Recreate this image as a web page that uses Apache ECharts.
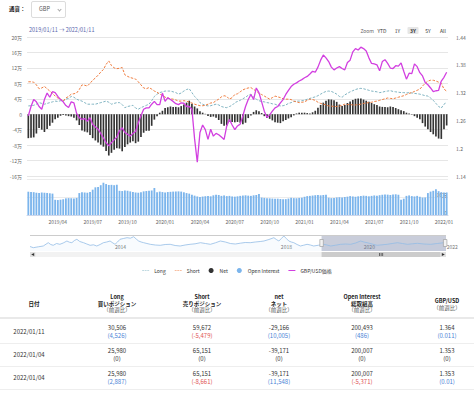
<!DOCTYPE html>
<html><head><meta charset="utf-8">
<script src="https://cdn.jsdelivr.net/npm/echarts@6/dist/echarts.min.js"></script>
<style>
body{margin:0;width:474px;height:393px;overflow:hidden;background:#fff;font-family:"Noto Sans CJK JP","Noto Sans",sans-serif;color:#333;position:relative}
#chart{position:absolute;left:0;top:0;width:474px;height:282px}
.abs{position:absolute;white-space:nowrap;line-height:1}
.c{transform:translate(-50%,-50%)}
.btn{position:absolute;top:27px;height:7px;font-size:5px;line-height:7px;color:#333;text-align:center;transform:translateX(-50%);padding:0 1.5px;border-radius:1px}
</style></head><body>
<div class="abs" style="left:9px;top:7px;font-size:5.5px;font-weight:bold;color:#222">通貨：</div>
<div class="abs" style="left:31px;top:1px;width:35px;height:17px;border:1px solid #dcdcdc;border-radius:2px;box-sizing:border-box"></div>
<div class="abs" style="left:39px;top:7px;font-size:5.5px;color:#555">GBP</div>
<div class="abs" style="left:57.5px;top:8px;width:2px;height:2px;border-right:1px solid #aaa;border-bottom:1px solid #aaa;transform:rotate(45deg)"></div>
<div id="chart"></div>
<div class="abs" style="left:29px;top:27.5px;font-size:5.5px;color:#5a67ad">2019/01/11 → 2022/01/11</div>
<div class="abs" style="left:374px;top:28px;font-size:5px;color:#666;transform:translateX(-100%)">Zoom</div>
<div class="btn" style="left:382px">YTD</div>
<div class="btn" style="left:397.5px">1Y</div>
<div class="btn" style="left:413px;background:#e6e6e6;font-weight:bold;width:8px">3Y</div>
<div class="btn" style="left:428px">5Y</div>
<div class="btn" style="left:443px">All</div>
<div id="table"></div>
<script>
// ---- weekly data (万 units for positions / open interest) ----
const longPos = [
2.15,2.2,2.3,2.6,3.0,2.8,2.6,2.8,3.0,3.2,
3.4,3.3,3.5,3.4,3.9,4.1,4.6,4.4,3.9,3.6,
3.4,3.0,2.6,2.6,2.6,2.6,2.8,3.0,3.2,3.4,
3.1,2.6,2.8,3.0,3.0,2.5,1.7,2.0,2.15,2.3,
1.6,1.3,1.7,2.0,2.3,2.6,3.5,4.6,5.2,5.6,
5.8,6.0,6.0,6.0,5.8,5.6,5.2,5.5,6.0,6.4,
6.6,5.6,4.6,3.9,3.0,2.6,2.3,2.15,2.2,2.4,
2.6,2.4,2.0,1.8,1.7,2.0,2.3,3.0,3.3,3.6,
4.0,4.4,4.9,5.2,4.4,3.9,3.5,3.3,3.2,3.0,
2.9,2.7,2.6,2.3,2.15,2.2,2.4,2.8,3.0,3.3,
3.4,3.4,3.5,3.6,3.9,4.1,4.3,4.5,4.8,5.2,
5.6,5.9,6.0,5.9,5.6,5.2,4.6,4.4,5.0,5.4,
5.8,6.1,6.4,6.6,6.7,6.6,6.4,6.2,6.0,5.9,
5.8,5.6,5.7,5.9,6.0,6.1,5.9,5.8,5.7,5.6,
5.6,5.5,5.6,5.5,5.4,5.3,5.2,5.0,4.8,4.7,
4.2,3.6,2.8,2.0,1.6,2.598,3.0506];
const shortPos = [
8.4,8.4,8.3,7.6,6.6,6.8,7.2,6.6,6.0,5.4,
4.7,4.2,3.9,3.4,4.2,4.6,5.2,5.3,5.5,6.4,
7.6,7.5,7.3,8.0,8.8,9.4,10.1,10.9,11.6,12.9,
13.8,12.6,12.0,11.8,11.9,12.1,10.2,9.8,9.5,9.3,
9.1,8.4,7.6,6.8,6.6,6.9,6.5,6.0,5.7,5.2,
4.9,4.4,4.2,4.0,3.9,3.7,3.4,3.4,3.5,3.4,
3.1,2.9,2.6,2.4,2.2,2.2,2.3,2.6,2.9,3.0,
3.5,3.9,4.5,4.8,4.6,3.9,4.3,5.1,5.3,5.8,
6.3,6.6,6.8,6.9,6.4,6.0,5.4,5.1,4.7,4.3,
3.9,4.3,4.7,4.5,4.3,4.0,3.9,3.9,3.8,3.4,
3.2,3.0,3.1,3.2,3.6,3.9,3.8,3.6,3.1,2.8,
2.6,2.4,2.15,2.1,2.0,2.0,2.1,2.3,2.6,2.5,
2.5,2.4,2.4,2.5,2.6,2.8,2.9,3.0,3.1,3.3,
3.4,3.6,3.8,4.0,4.2,4.1,4.0,4.2,4.4,4.6,
4.8,5.1,5.4,5.6,5.9,6.2,6.5,7.3,8.0,8.6,
8.8,8.8,8.6,8.3,8.0,6.5151,5.9672];
const netPos = [
-6.2,-6.1,-6.0,-5.0,-3.6,-4.0,-4.6,-3.8,-3.0,-2.2,
-1.3,-0.9,-0.4,-0.2,-0.3,-0.5,-0.6,-0.9,-1.6,-2.8,
-4.2,-4.5,-4.7,-5.4,-6.2,-6.8,-7.3,-7.9,-8.4,-9.5,
-10.7,-10.0,-9.2,-8.8,-8.9,-9.6,-8.5,-7.8,-7.35,-7.0,
-7.5,-7.1,-5.9,-4.8,-4.3,-4.3,-3.0,-1.4,-0.5,0.4,
0.9,1.6,1.8,2.0,1.9,1.9,1.8,2.1,2.5,3.0,
3.5,2.7,2.0,1.5,0.8,0.4,0.1,-0.45,-0.7,-0.6,
-0.9,-1.5,-2.5,-3.0,-2.9,-1.9,-2.0,-2.1,-2.0,-2.2,
-2.6,-2.2,-1.0,-0.3,0.6,1.0,0.8,0.3,-0.5,-1.0,
-1.2,-1.6,-2.1,-2.2,-2.3,-1.8,-1.5,-1.1,-0.8,-0.3,
0.2,0.4,0.4,0.4,0.3,0.2,0.5,0.9,1.7,2.4,
3.0,3.5,3.85,3.8,3.6,3.2,2.5,2.1,2.4,2.9,
3.3,3.7,4.0,4.1,4.1,3.8,3.5,3.2,2.9,2.6,
2.4,2.0,1.9,1.9,1.8,2.0,1.9,1.6,1.3,1.0,
0.8,0.4,0.2,-0.1,-0.5,-0.9,-1.3,-2.3,-3.2,-3.9,
-4.6,-5.2,-5.8,-6.3,-6.4,-3.9171,-2.9166];
const openInterest = [
20.7,20.5,20.3,19.8,19.5,20.0,19.8,19.6,19.3,19.0,
13.5,13.3,13.6,14.0,14.8,15.0,14.9,14.6,15.2,19.5,
20.3,20.0,19.8,20.5,22.5,24.6,24.8,26.5,28.7,27.5,
26.7,26.8,26.5,26.9,21.5,21.3,21.8,21.5,21.0,20.5,
20.0,19.8,20.3,21.0,21.3,21.5,21.8,24.0,20.3,20.8,
20.4,20.0,20.4,20.6,20.8,20.9,21.0,20.8,20.2,19.5,
19.0,18.0,17.2,16.5,16.0,16.4,16.7,16.8,16.6,17.5,
17.9,17.8,17.0,17.4,16.8,17.0,16.5,16.3,16.6,17.0,
17.3,17.5,17.2,17.0,17.5,17.8,18.6,15.5,15.2,15.0,
14.8,14.6,14.4,14.5,14.2,14.0,14.1,14.6,15.3,15.0,
14.9,15.2,15.4,16.2,16.8,17.0,17.3,17.6,17.8,17.5,
17.8,18.0,15.4,15.0,15.2,15.6,15.8,15.5,16.0,16.3,
16.8,16.5,16.2,16.6,16.9,17.2,17.0,16.6,17.0,17.4,
17.2,17.6,18.0,18.3,18.1,17.8,18.2,18.4,18.0,13.6,
14.5,17.0,17.4,16.8,16.5,17.0,16.2,15.5,15.6,19.5,
20.8,21.5,22.8,21.2,20.3,20.0007,20.0493];
const gbpusd = [
1.270,1.290,1.305,1.300,1.290,1.284,1.305,1.319,1.310,1.322,
1.320,1.312,1.305,1.300,1.292,1.288,1.300,1.298,1.275,1.266,
1.262,1.264,1.258,1.266,1.251,1.246,1.241,1.232,1.222,1.212,
1.205,1.212,1.218,1.224,1.238,1.244,1.234,1.230,1.226,1.232,
1.236,1.255,1.270,1.284,1.287,1.287,1.295,1.301,1.294,1.294,
1.319,1.301,1.309,1.305,1.301,1.296,1.294,1.298,1.297,1.290,
1.290,1.284,1.220,1.170,1.234,1.250,1.240,1.219,1.241,1.226,
1.232,1.229,1.224,1.219,1.248,1.262,1.250,1.240,1.248,1.252,
1.270,1.290,1.305,1.316,1.305,1.330,1.320,1.300,1.280,1.266,
1.272,1.280,1.287,1.290,1.298,1.305,1.316,1.325,1.333,1.338,
1.341,1.345,1.348,1.352,1.355,1.360,1.366,1.364,1.375,1.390,
1.401,1.395,1.387,1.375,1.369,1.373,1.376,1.372,1.369,1.385,
1.390,1.408,1.415,1.412,1.418,1.415,1.410,1.395,1.383,1.382,
1.380,1.367,1.387,1.391,1.383,1.373,1.372,1.378,1.377,1.384,
1.366,1.349,1.362,1.361,1.382,1.376,1.363,1.356,1.342,1.337,
1.330,1.322,1.324,1.325,1.345,1.353,1.364];
// navigator (full history overview)
const navYears = [2012.00,2012.08,2012.2,2012.32,2012.44,2012.5,2012.56,2012.64,2012.72,2012.8,2012.89,2012.95,
2013.01,2013.07,2013.13,2013.2,2013.29,2013.37,2013.45,2013.53,2013.61,2013.69,2013.77,2013.85,2013.93,
2014.0,2014.05,2014.11,2014.17,2014.25,2014.34,2014.42,2014.5,2014.56,2014.62,2014.68,2014.74,2014.82,2014.9,
2015.02,2015.14,2015.26,2015.38,2015.5,2015.62,2015.74,2015.86,2015.98,2016.11,2016.23,2016.35,2016.47,2016.59,
2016.71,2016.83,2016.95,2017.07,2017.19,2017.31,2017.43,2017.55,2017.64,2017.76,2017.88,2017.94,2018.0,2018.06,
2018.12,2018.18,2018.24,2018.3,2018.36,2018.44,2018.52,2018.6,2018.68,2018.76,2018.84,2018.96,2019.08,2019.16,
2019.25,2019.37,2019.49,2019.61,2019.73,2019.85,2019.97,2020.05,2020.13,2020.25,2020.37,2020.49,2020.61,2020.73,
2020.86,2020.98,2021.1,2021.22,2021.34,2021.5,2021.66,2021.82,2021.98,2022.03];
const navLevels = [4.5,3.3,4.2,5.0,8.3,6.5,5.7,7.5,6.7,8.0,10.0,8.8,
8.3,10.5,11.7,9.5,8.3,7.0,5.7,6.2,5.0,6.5,8.3,9.0,10.0,
8.0,6.7,9.0,11.7,12.5,13.3,12.8,14.3,12.0,10.0,9.0,8.3,7.5,6.7,
6.0,5.7,6.5,6.7,5.5,5.0,6.0,6.7,7.2,8.3,7.5,6.7,8.2,10.0,
9.0,7.5,7.0,7.8,8.5,8.3,9.0,9.5,10.0,11.5,13.3,11.5,10.0,12.5,
15.0,12.5,10.0,9.0,8.3,6.5,5.0,5.8,6.7,6.0,5.0,5.8,6.7,6.0,
5.0,5.8,6.7,7.0,6.7,8.0,10.0,9.0,8.3,7.0,5.7,6.2,6.7,7.5,
8.3,7.5,6.7,7.2,7.7,7.0,6.7,7.5,8.3,7.8];
const navLabelYears = [2014, 2018, 2020, 2022];
const selStart = 2019.03, selEnd = 2022.03;
// table
const tableDates = ['2022/01/11','2022/01/04','2022/01/04'];
const tableLong = [30506,25980,25980], tableLongChg = [4526,0,2887];
const tableShort = [59672,65151,65151], tableShortChg = [-5479,0,-8661];
const tableNet = [-29166,-39171,-39171], tableNetChg = [10005,0,11548];
const tableOI = [200493,200007,200007], tableOIChg = [486,0,-5371];
const tablePx = ['1.364','1.353','1.353'], tablePxChg = ['0.011','0','0.01'];

// ---- categories ----
const dates = [];
const t0 = Date.UTC(2019, 0, 15);
for (let i = 0; i < longPos.length; i++) {
  const d = new Date(t0 + i * 7 * 86400000);
  dates.push(d.getUTCFullYear() + '/' + String(d.getUTCMonth() + 1).padStart(2, '0') + '/' + String(d.getUTCDate()).padStart(2, '0'));
}
function quarterStart(i) {
  if (i === 0) return false;
  const m = +dates[i].slice(5, 7), pm = +dates[i - 1].slice(5, 7);
  return m !== pm && (m - 1) % 3 === 0;
}
const FF = '"Noto Sans CJK JP","Noto Sans",sans-serif';
const dashIcon = 'path://M0,0H0.05V0.05H0Z M0,4.95H0.05V5H0Z M0,2H3V3H0Z M4,2H7V3H4Z M8,2H11V3H8Z M11,4.95H11.05V5H11Z';
const solidIcon = 'path://M0,0H0.05V0.05H0Z M0,4.95H0.05V5H0Z M0,1.9H11V3.1H0Z M11,4.95H11.05V5H11Z';
const chart = echarts.init(document.getElementById('chart'), null, {renderer: 'svg'});
const gridBase = {outerBoundsMode: 'none', containLabel: false};
chart.setOption({
  animation: false,
  textStyle: {fontFamily: FF},
  legend: {
    top: 263, left: 'center', itemWidth: 7, itemHeight: 5, itemGap: 9,
    textStyle: {fontSize: 5, color: '#333', fontFamily: FF},
    data: [{name: 'Long', icon: dashIcon}, {name: 'Short', icon: dashIcon}, {name: 'Net', icon: 'circle'},
      {name: 'Open Interest', icon: 'circle'}, {name: 'GBP/USD価格', icon: solidIcon}]
  },
  grid: [
    Object.assign({left: 27, width: 421, top: 37, height: 139}, gridBase),
    Object.assign({left: 27, width: 421, top: 179, height: 36}, gridBase),
    Object.assign({left: 30, width: 416, top: 235, height: 16}, gridBase),
    Object.assign({left: 30, width: 416, top: 252, height: 5, show: true, backgroundColor: '#f2f2f2', borderWidth: 0}, gridBase)
  ],
  xAxis: [
    {type: 'category', gridIndex: 0, data: dates, show: false},
    {type: 'category', gridIndex: 1, data: dates,
      axisLine: {lineStyle: {color: '#ccd6eb'}},
      axisTick: {length: 3, alignWithLabel: true, interval: (i) => quarterStart(i), lineStyle: {color: '#ccd6eb'}},
      axisLabel: {interval: (i) => quarterStart(i), formatter: (v) => v.slice(0, 7), fontSize: 5, color: '#666', margin: 4}},
    {type: 'value', gridIndex: 2, min: 2012, max: 2022.03, interval: 1,
      axisLine: {show: false}, axisTick: {show: false}, splitLine: {show: false},
      axisLabel: {inside: true, align: 'left', margin: 2, padding: [0, 0, 0, 2], fontSize: 5, color: '#777', showMaxLabel: true,
        formatter: (v) => navLabelYears.indexOf(Math.round(v)) >= 0 && Math.abs(v - Math.round(v)) < 1e-6 ? String(Math.round(v)) : ''}},
    {type: 'value', gridIndex: 3, min: 2012, max: 2022.03, show: false}
  ],
  yAxis: [
    {type: 'value', gridIndex: 0, position: 'left', min: -16, max: 20, interval: 4,
      axisLine: {show: false}, axisTick: {show: false},
      splitLine: {lineStyle: {color: '#e6e6e6', width: 1}},
      axisLabel: {fontSize: 5, color: '#666', margin: 5, formatter: (v) => v === 0 ? '0' : v + '万'}},
    {type: 'value', gridIndex: 0, position: 'right', min: 1.14, max: 1.44, interval: 0.06,
      axisLine: {show: false}, axisTick: {show: false}, splitLine: {show: false},
      axisLabel: {fontSize: 5, color: '#666', margin: 8, formatter: (v) => String(+v.toFixed(2))}},
    {type: 'value', gridIndex: 1, position: 'right', min: 0, max: 32, interval: 16,
      axisLine: {show: false}, axisTick: {show: false},
      splitLine: {lineStyle: {color: '#ececec'}},
      axisLabel: {inside: true, verticalAlign: 'bottom', margin: 1, fontSize: 5, color: '#555',
        formatter: (v) => v === 0 ? '0' : (v === 16 ? '16万' : '')}},
    {type: 'value', gridIndex: 2, min: 0, max: 16, show: false},
    {type: 'value', gridIndex: 3, min: 0, max: 1, show: false}
  ],
  series: [
    {name: 'Net', type: 'bar', xAxisIndex: 0, yAxisIndex: 0, data: netPos, barWidth: '62%', itemStyle: {color: '#333333'}},
    {name: 'Open Interest', type: 'bar', xAxisIndex: 1, yAxisIndex: 2, data: openInterest, barWidth: '68%', itemStyle: {color: '#7cb5ec'}},
    {name: 'Long', type: 'line', xAxisIndex: 0, yAxisIndex: 0, data: longPos, symbol: 'none', itemStyle: {color: '#80b4c2'},
      lineStyle: {color: '#80b4c2', width: 1, type: [2.5, 1.5]}},
    {name: 'Short', type: 'line', xAxisIndex: 0, yAxisIndex: 0, data: shortPos, symbol: 'none', itemStyle: {color: '#f07c3e'},
      lineStyle: {color: '#f07c3e', width: 1, type: [2.5, 1.5]}},
    {name: 'GBP/USD価格', type: 'line', xAxisIndex: 0, yAxisIndex: 1, data: gbpusd, symbol: 'none', itemStyle: {color: '#d23fe0'},
      lineStyle: {color: '#d23fe0', width: 1.3}, z: 5},
    {name: 'nav', type: 'line', xAxisIndex: 2, yAxisIndex: 3, data: navYears.map((y, i) => [y, navLevels[i]]),
      symbol: 'none', lineStyle: {color: '#93bde6', width: 0.8}, areaStyle: {color: 'rgba(124,181,236,0.08)'}, silent: true,
      markArea: {silent: true, itemStyle: {color: 'rgba(112,124,158,0.38)'}, data: [[{xAxis: selStart}, {xAxis: selEnd}]]},
      markLine: {silent: true, symbol: 'none', label: {show: false}, lineStyle: {color: '#cccccc', width: 1, type: 'solid'}, data: [{yAxis: 16}]},
      markPoint: {silent: true, symbol: 'rect', symbolSize: [3.5, 7], label: {show: false},
        itemStyle: {color: '#f2f2f2', borderColor: '#999', borderWidth: 0.6},
        data: [{coord: [selStart, 8]}, {coord: [selEnd - 0.02, 8]}]}},
    {name: 'scroll', type: 'line', xAxisIndex: 3, yAxisIndex: 4, data: [[2012, -5]], symbol: 'none', lineStyle: {width: 0}, silent: true,
      markArea: {silent: true, data: [
        [{xAxis: selStart, itemStyle: {color: '#cccccc'}}, {xAxis: 2021.9}],
        [{xAxis: 2012, itemStyle: {color: '#e0e0e0'}}, {xAxis: 2012.13}],
        [{xAxis: 2021.9, itemStyle: {color: '#e0e0e0'}}, {xAxis: 2022.03}]]},
      markPoint: {silent: true, label: {show: false}, itemStyle: {color: '#333'},
        data: [
          {coord: [2012.065, 0.5], symbol: 'triangle', symbolRotate: 90, symbolSize: [3, 3]},
          {coord: [2021.965, 0.5], symbol: 'triangle', symbolRotate: -90, symbolSize: [3, 3]},
          {coord: [(selStart + 2021.9) / 2, 0.5], symbol: 'path://M0,0H1V6H0Z M2.5,0H3.5V6H2.5Z M5,0H6V6H5Z', symbolSize: [4, 3]}]}}
  ]
});

// ---- table ----
const tbl = document.getElementById('table');
function put(x, y, s, style) {
  const d = document.createElement('div');
  d.className = 'abs c';
  d.style.left = x + 'px'; d.style.top = y + 'px';
  d.style.fontSize = '6px';
  Object.assign(d.style, style || {});
  d.textContent = s;
  tbl.appendChild(d);
}
function line(y, h, c) {
  const d = document.createElement('div');
  d.className = 'abs';
  Object.assign(d.style, {left: '0px', top: y + 'px', width: '474px', height: h + 'px', background: c});
  tbl.appendChild(d);
}
const colX = [29, 117, 202, 279, 362, 447];
const heads = [
  {x: 34, lines: [['日付', 304.5]]},
  {x: colX[1], lines: [['Long', 298], ['買いポジション', 304.5], ['（前週比）', 311]]},
  {x: colX[2], lines: [['Short', 298], ['売りポジション', 304.5], ['（前週比）', 311]]},
  {x: colX[3], lines: [['net', 298], ['ネット', 304.5], ['（前週比）', 311]]},
  {x: colX[4], lines: [['Open Interest', 298], ['総取組高', 304.5], ['（前週比）', 311]]},
  {x: colX[5], lines: [['GBP/USD', 301.5], ['（前週比）', 308.5]]}
];
heads.forEach(h => h.lines.forEach(([s, y]) => {
  const sub = s.indexOf('前週比') >= 0;
  put(h.x, y, s, {fontWeight: sub ? 'normal' : 'bold', color: sub ? '#555' : '#222', fontSize: '5.5px'});
}));
line(317, 2, '#e9e9e9');
const fmt = (n) => n.toLocaleString('en-US');
const chgColor = (n) => n > 0 ? '#4a83d6' : (n < 0 ? '#e05252' : '#333');
for (let r = 0; r < tableDates.length; r++) {
  const y1 = 328 + r * 23.2, y2 = 336 + r * 23.2;
  put(colX[0], 332 + r * 23.2, tableDates[r], {color: '#333'});
  const cols = [[tableLong, tableLongChg], [tableShort, tableShortChg], [tableNet, tableNetChg], [tableOI, tableOIChg]];
  cols.forEach(([v, c], k) => {
    put(colX[k + 1], y1, fmt(v[r]), {color: '#333'});
    put(colX[k + 1], y2, '(' + fmt(c[r]) + ')', {color: chgColor(c[r])});
  });
  put(colX[5], y1, tablePx[r], {color: '#333'});
  put(colX[5], y2, '(' + tablePxChg[r] + ')', {color: chgColor(parseFloat(tablePxChg[r]))});
  line(343 + r * 23.2, 1, '#eeeeee');
}
</script>
</body></html>
